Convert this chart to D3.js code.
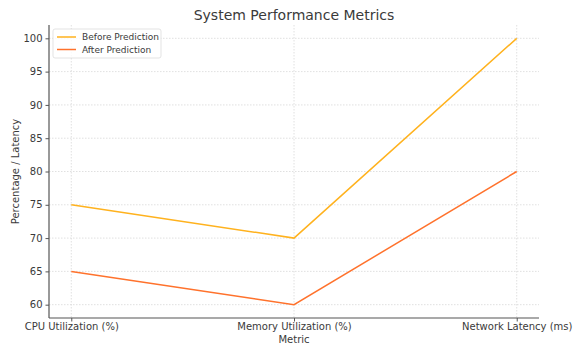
<!DOCTYPE html>
<html>
<head>
<meta charset="utf-8">
<script src="https://cdn.jsdelivr.net/npm/d3@7"></script>
<style>
  html, body { margin: 0; padding: 0; background: #fff; }
  svg { display: block; font-family: "DejaVu Sans", sans-serif; }
</style>
</head>
<body>
<svg id="chart" width="580" height="345"></svg>
<script>
// Metrics on the x axis
const categories = ["CPU Utilization (%)", "Memory Utilization (%)", "Network Latency (ms)"];
// Series values
const beforeValues = [75, 70, 100];
const afterValues = [65, 60, 80];
const seriesNames = ["Before Prediction", "After Prediction"];
const seriesColors = ["#FFB21E", "#FF722C"];
// Y tick labels
const yTicks = [60, 65, 70, 75, 80, 85, 90, 95, 100];

const svg = d3.select("#chart");
const margin = { left: 49, right: 41, top: 25, bottom: 27 };
const W = 580, H = 345;
const plotW = W - margin.left - margin.right;
const plotH = H - margin.top - margin.bottom;
const g = svg.append("g").attr("transform", `translate(${margin.left},${margin.top})`);

const x = d3.scaleLinear().domain([-0.1, categories.length - 1 + 0.1]).range([0, plotW]);
const y = d3.scaleLinear().domain([58, 102]).range([plotH, 0]);

const textColor = "#3a3a3a";

// Grid lines
g.append("g").selectAll("line").data(yTicks).join("line")
  .attr("x1", 0).attr("x2", plotW)
  .attr("y1", d => y(d)).attr("y2", d => y(d))
  .attr("stroke", "#d8d8d8").attr("stroke-width", 0.8).attr("stroke-dasharray", "1.5,1.5");
g.append("g").selectAll("line").data(categories).join("line")
  .attr("x1", (d, i) => x(i)).attr("x2", (d, i) => x(i))
  .attr("y1", 0).attr("y2", plotH)
  .attr("stroke", "#d8d8d8").attr("stroke-width", 0.8).attr("stroke-dasharray", "1.5,1.5");

// Axes
const yAxis = d3.axisLeft(y).tickValues(yTicks).tickSize(3.5).tickPadding(3);
const xAxis = d3.axisBottom(x).tickValues(categories.map((d, i) => i))
  .tickFormat(i => categories[i]).tickSize(3.5).tickPadding(3);

const ya = g.append("g").call(yAxis);
const xa = g.append("g").attr("transform", `translate(0,${plotH})`).call(xAxis);
[ya, xa].forEach(a => {
  a.select(".domain").attr("stroke", "#555").attr("stroke-width", 1.2);
  a.selectAll(".tick line").attr("stroke", "#555");
  a.selectAll(".tick text").attr("fill", textColor).attr("font-size", 10)
    .attr("font-family", "DejaVu Sans, sans-serif");
});
ya.select(".domain").attr("d", `M0,0V${plotH}`);
xa.select(".domain").attr("d", `M0,0H${plotW}`);
// Place x tick labels by baseline so the axis title fits below them
xa.selectAll(".tick text").attr("dy", null).attr("y", 11.5);

// Lines
const line = d3.line().x((d, i) => x(i)).y(d => y(d));
[beforeValues, afterValues].forEach((vals, k) => {
  g.append("path").datum(vals)
    .attr("fill", "none")
    .attr("stroke", seriesColors[k])
    .attr("stroke-width", 1.5)
    .attr("d", line);
});

// Title and axis labels
svg.append("text").attr("x", margin.left + plotW / 2).attr("y", 20)
  .attr("text-anchor", "middle").attr("font-size", 14).attr("fill", textColor)
  .text("System Performance Metrics");
svg.append("text").attr("x", margin.left + plotW / 2).attr("y", 343)
  .attr("text-anchor", "middle").attr("font-size", 10).attr("fill", textColor)
  .text("Metric");
svg.append("text")
  .attr("transform", `translate(19,${margin.top + plotH / 2}) rotate(-90)`)
  .attr("text-anchor", "middle").attr("font-size", 10).attr("fill", textColor)
  .text("Percentage / Latency");

// Legend
const lg = svg.append("g").attr("transform", "translate(53,29)");
lg.append("rect").attr("width", 108).attr("height", 29).attr("rx", 2)
  .attr("fill", "#fff").attr("fill-opacity", 0.8)
  .attr("stroke", "#dcdcdc").attr("stroke-width", 0.8);
seriesNames.forEach((name, k) => {
  const yy = 8 + k * 12.5;
  lg.append("line").attr("x1", 4).attr("x2", 23).attr("y1", yy).attr("y2", yy)
    .attr("stroke", seriesColors[k]).attr("stroke-width", 1.5);
  lg.append("text").attr("x", 29).attr("y", yy + 3.2).attr("font-size", 9)
    .attr("fill", textColor).text(name);
});
</script>
</body>
</html>
